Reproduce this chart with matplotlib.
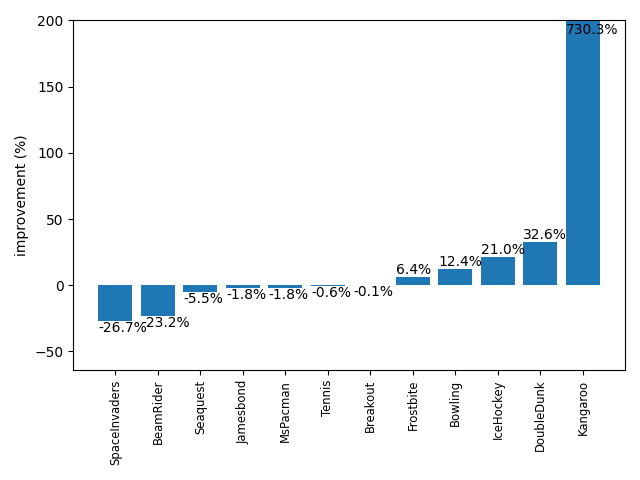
import matplotlib
matplotlib.use("Agg")
import matplotlib.pyplot as plt

games = ["SpaceInvaders", "BeamRider", "Seaquest", "Jamesbond", "MsPacman", "Tennis",
         "Breakout", "Frostbite", "Bowling", "IceHockey", "DoubleDunk", "Kangaroo"]
improvement = [-26.7, -23.2, -5.5, -1.8, -1.8, -0.6, -0.1, 6.4, 12.4, 21.0, 32.6, 730.3]

ymin, ymax = -64, 200

fig, ax = plt.subplots(figsize=(6.4, 4.8), dpi=100)
bars = ax.bar(range(len(games)), improvement)
ax.set_ylim(ymin, ymax)
ax.set_xticks(range(len(games)))
ax.set_xticklabels(games, rotation=90, fontsize="small")
ax.set_ylabel("improvement (%)")
for b, v in zip(bars, improvement):
    x = b.get_x()
    if v > ymax:
        ax.text(x, ymax - 2, f"{v:.1f}%", ha="left", va="top")
    elif v >= 0:
        ax.text(x, v, f"{v:.1f}%", ha="left", va="bottom")
    else:
        ax.text(x, v, f"{v:.1f}%", ha="left", va="top")
fig.tight_layout()
fig.savefig("out.png")
